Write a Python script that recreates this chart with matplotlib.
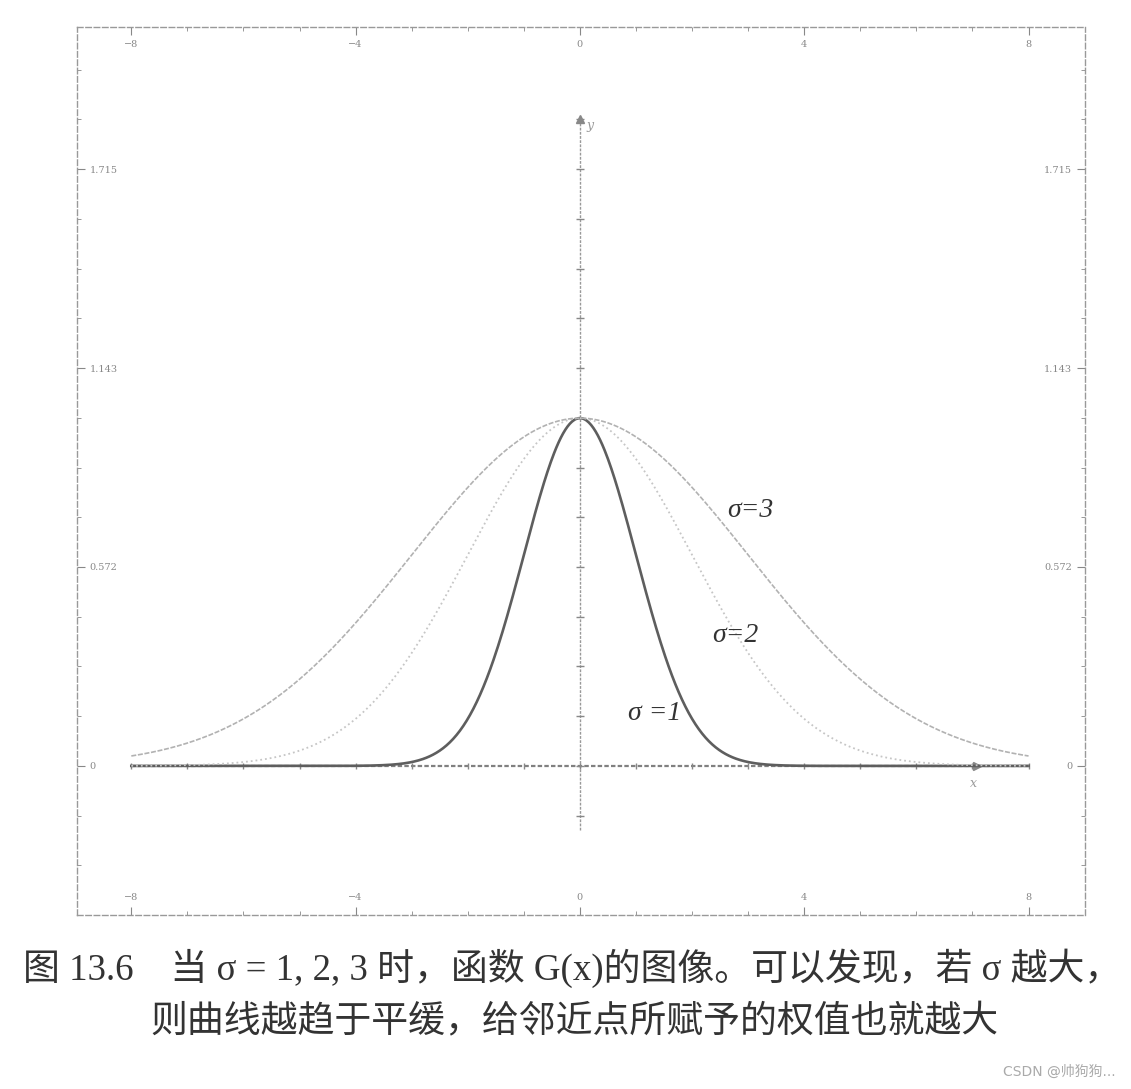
import numpy as np
import matplotlib.pyplot as plt
from matplotlib.ticker import MultipleLocator

# curve parameters (G(x) = exp(-x^2 / (2 sigma^2)), peak 1)
sigmas = [1, 2, 3]
sigma_labels = ['σ =1', 'σ=2', 'σ=3']
label_x = [0.85, 2.35, 2.62]
label_y = [0.15, 0.375, 0.735]

x_ticks = [-8, -4, 0, 4, 8]
x_tick_labels = ['−8', '−4', '0', '4', '8']
y_ticks = [0, 0.572, 1.143, 1.715]
y_tick_labels = ['0', '0.572', '1.143', '1.715']

caption_1 = '图 13.6　当 σ = 1, 2, 3 时，函数 G(x)的图像。可以发现，若 σ 越大，'
caption_2 = '则曲线越趋于平缓，给邻近点所赋予的权值也就越大'
watermark = 'CSDN @帅狗狗...'

line_colors = ['#5e5e5e', '#c6c6c6', '#b2b2b2']
line_styles = ['-', ':', (0, (3, 1))]
line_widths = [1.9, 1.3, 1.2]

x = np.linspace(-8, 8, 801)

fig = plt.figure(figsize=(11.31, 10.89), dpi=100)
ax = fig.add_axes([0.068, 0.16, 0.891, 0.815])
ax.set_xlim(-8.97, 9.0)
ax.set_ylim(-0.428, 2.124)

# outer dashed frame
for sp in ax.spines.values():
    sp.set_linestyle((0, (4, 2)))
    sp.set_color('#999999')
    sp.set_linewidth(1.0)

ax.set_xticks(x_ticks)
ax.set_xticklabels(x_tick_labels)
ax.set_yticks(y_ticks)
ax.set_yticklabels(y_tick_labels)
ax.xaxis.set_minor_locator(MultipleLocator(1))
ax.yaxis.set_minor_locator(MultipleLocator(0.143))
ax.tick_params(which='both', direction='in', top=True, right=True, color='#888888')
ax.tick_params(which='major', length=6, labelsize=7, labelcolor='#888888',
               labeltop=True, labelright=True, pad=-9)
ax.tick_params(which='minor', length=3)
for t in ax.yaxis.get_major_ticks():
    t.label1.set_horizontalalignment('left')
    t.label2.set_horizontalalignment('right')
for t in ax.xaxis.get_major_ticks():
    t.label1.set_verticalalignment('bottom')
    t.label2.set_verticalalignment('top')
for lab in ax.get_xticklabels() + ax.get_yticklabels():
    lab.set_family('DejaVu Serif')

# inner coordinate axes
ax.plot([0, 0], [-0.184, 1.86], color='#999999', lw=1.0, ls=(0, (2, 1)))
ax.plot([0], [1.86], marker='^', color='#888888', ms=6)
ax.plot([-8, 8], [0, 0], color='#808080', lw=1.6, ls=(0, (2, 1)))
ax.plot([7.08], [0], marker='>', color='#888888', ms=6)
ax.plot(np.arange(-8, 9), np.zeros(17), ls='none', marker='|', color='#888888', ms=5)
yt = np.arange(-1, 14) * 0.143
ax.plot(np.zeros(len(yt)), yt, ls='none', marker='_', color='#888888', ms=6)
ax.text(0.12, 1.83, 'y', fontsize=9, color='#999999', style='italic', family='DejaVu Serif')
ax.text(6.95, -0.06, 'x', fontsize=9, color='#999999', style='italic', family='DejaVu Serif')

for s, c, ls, lw in zip(sigmas, line_colors, line_styles, line_widths):
    ax.plot(x, np.exp(-x ** 2 / (2 * s ** 2)), color=c, ls=ls, lw=lw)

for lab, lx, ly in zip(sigma_labels, label_x, label_y):
    ax.text(lx, ly, lab, fontsize=20, color='#333333', style='italic',
            family='Liberation Serif', ha='left', va='center')

fig.text(0.506, 0.111, caption_1, ha='center', va='center', fontsize=26.6, color='#333333',
         family=['Liberation Serif', 'Noto Sans CJK SC'])
fig.text(0.508, 0.0606, caption_2, ha='center', va='center', fontsize=26.6, color='#333333',
         family=['Liberation Serif', 'Noto Sans CJK SC'])
fig.text(0.986, 0.016, watermark, ha='right', va='center', fontsize=10, color='#aaaaaa',
         family=['DejaVu Sans', 'Noto Sans CJK SC'])

fig.savefig('out.png', dpi=100, facecolor='white')
